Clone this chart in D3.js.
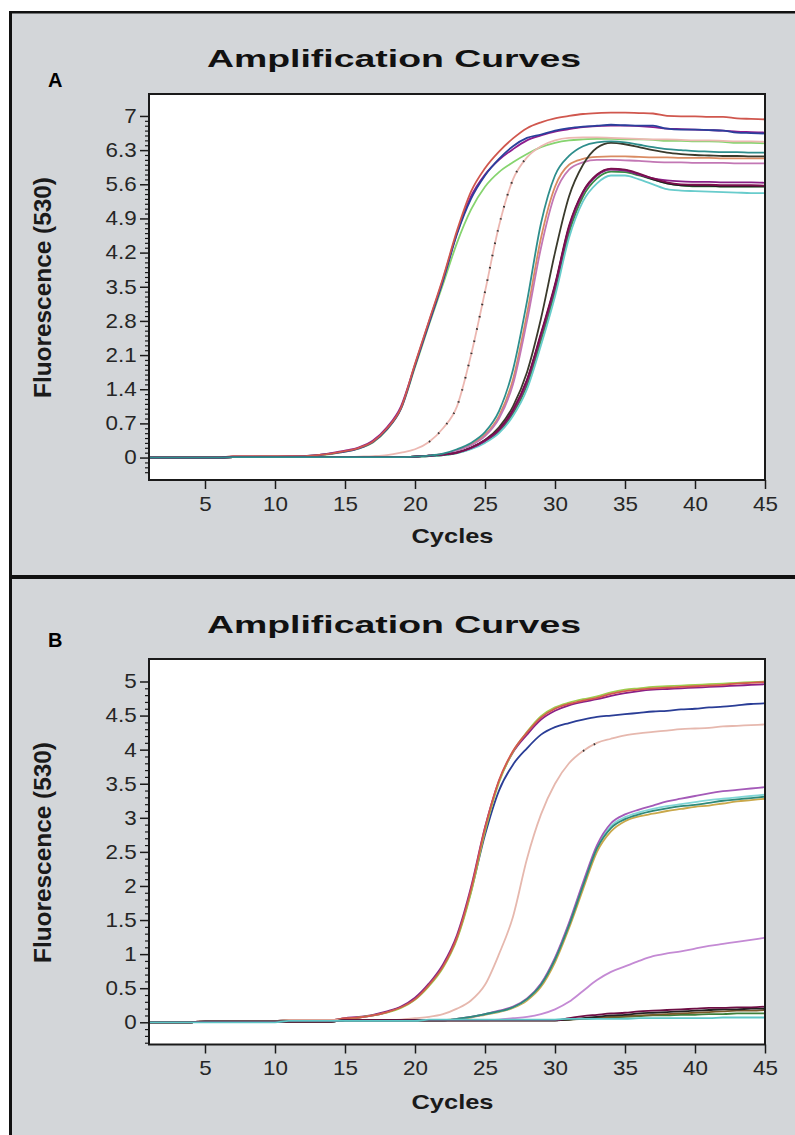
<!DOCTYPE html>
<html>
<head>
<meta charset="utf-8">
<title>Amplification Curves</title>
<script src="https://d3js.org/d3.v7.min.js"></script>
<style>
  body { margin: 0; background: #fff; }
  svg text { font-family: "Liberation Sans", Arial, sans-serif; }
</style>
</head>
<body>
<div id="chart"></div>
<script>
// cycle numbers on the x axis
const cycles = d3.range(1, 46)
const xTicks = [5, 10, 15, 20, 25, 30, 35, 40, 45]

// ---- panel A (fluorescence per cycle) ----
const yTicksA = [0, 0.7, 1.4, 2.1, 2.8, 3.5, 4.2, 4.9, 5.6, 6.3, 7]
const aRed = [0,0,0,0,0,0,0.03,0.03,0.03,0.03,0.03,0.03, 0.05,0.08,0.13,0.2,0.33,0.6,1.02,1.92,2.8,3.68, 4.65,5.45,5.93,6.27,6.54,6.75,6.87,6.95,7.0,7.04, 7.06,7.07,7.07,7.06,7.05,7.0,6.99,6.99,6.98,6.98, 6.95,6.94,6.93]
const aPurple = [0,0,0,0,0,0,0.02,0.02,0.02,0.02,0.03,0.03, 0.05,0.09,0.14,0.21,0.35,0.62,1.05,1.9,2.78,3.65, 4.6,5.35,5.8,6.1,6.32,6.5,6.6,6.68,6.73,6.77, 6.79,6.8,6.8,6.79,6.77,6.74,6.73,6.72,6.71,6.7, 6.68,6.67,6.66]
const aBlue = [0,0,0,0,0,0,0.02,0.02,0.02,0.02,0.02,0.03, 0.05,0.08,0.12,0.19,0.32,0.58,1.0,1.88,2.75,3.62, 4.58,5.3,5.78,6.12,6.38,6.55,6.62,6.7,6.75,6.78, 6.8,6.82,6.81,6.8,6.8,6.74,6.72,6.72,6.71,6.7, 6.66,6.65,6.64]
const aLime = [0,0,0,0,0,0,0.01,0.01,0.02,0.02,0.02,0.02, 0.04,0.07,0.12,0.19,0.31,0.57,1.0,1.85,2.72,3.55, 4.4,5.08,5.55,5.85,6.05,6.22,6.36,6.45,6.5,6.52, 6.53,6.53,6.52,6.52,6.51,6.49,6.49,6.48,6.48,6.47, 6.45,6.45,6.44]
const aPink = [0,0,0,0,0,0,0.01,0.01,0.01,0.01,0.01,0.01,0.01,0.01,0.01,0.02,0.03, 0.05,0.1,0.17,0.32,0.6,1.05,2.1,3.4,4.75,5.7, 6.15,6.38,6.5,6.55,6.56,6.56,6.55,6.54,6.53,6.52, 6.52,6.51,6.5,6.5,6.49,6.48,6.48,6.47]
const aTeal = [0,0,0,0,0,0,0.01,0.01,0.01,0.01,0.01,0.01,0.01,0.01,0.01,0.01,0.01,0.01,0.01, 0.02,0.04,0.08,0.17,0.3,0.52,0.95,1.8,3.2,4.8, 5.78,6.18,6.38,6.46,6.48,6.46,6.41,6.36,6.32,6.3, 6.28,6.27,6.26,6.26,6.25,6.25]
const aSalmon = [0,0,0,0,0,0,0.01,0.01,0.01,0.01,0.01,0.01,0.01,0.01,0.01,0.01,0.01,0.01,0.01, 0.02,0.04,0.07,0.15,0.27,0.47,0.85,1.6,2.95,4.5, 5.55,6.0,6.12,6.16,6.17,6.17,6.16,6.15,6.15,6.14, 6.14,6.14,6.13,6.13,6.13,6.13]
const aMauve = [0,0,0,0,0,0,0.01,0.01,0.01,0.01,0.01,0.01,0.01,0.01,0.01,0.01,0.01,0.01,0.01, 0.02,0.04,0.07,0.14,0.25,0.44,0.8,1.5,2.8,4.3, 5.4,5.9,6.05,6.1,6.1,6.09,6.08,6.06,6.05,6.05, 6.04,6.04,6.04,6.03,6.03,6.03]
const aDark = [0,0,0,0,0,0,0.01,0.01,0.01,0.01,0.01,0.01,0.01,0.01,0.01,0.01,0.01,0.01,0.01, 0.02,0.03,0.05,0.1,0.2,0.36,0.62,1.05,1.75,2.85, 4.2,5.35,6.0,6.35,6.45,6.42,6.36,6.3,6.25,6.22, 6.2,6.19,6.18,6.18,6.17,6.17]
const aMaroon = [0,0,0,0,0,0,0.01,0.01,0.01,0.01,0.01,0.01,0.01,0.01,0.01,0.01,0.01,0.01,0.01, 0.02,0.04,0.06,0.1,0.2,0.36,0.58,0.98,1.6,2.55, 3.55,4.75,5.45,5.8,5.92,5.9,5.82,5.72,5.64,5.6, 5.59,5.59,5.58,5.58,5.58,5.57]
const aViolet = [0,0,0,0,0,0,0.01,0.01,0.01,0.01,0.01,0.01,0.01,0.01,0.01,0.01,0.01,0.01,0.01, 0.02,0.04,0.06,0.1,0.19,0.34,0.56,0.95,1.55,2.5, 3.5,4.7,5.42,5.78,5.9,5.88,5.8,5.72,5.68,5.66, 5.65,5.65,5.64,5.64,5.64,5.63]
const aGreen = [0,0,0,0,0,0,0.01,0.01,0.01,0.01,0.01,0.01,0.01,0.01,0.01,0.01,0.01,0.01,0.01, 0.02,0.03,0.05,0.09,0.18,0.32,0.53,0.9,1.48,2.4, 3.4,4.6,5.35,5.72,5.86,5.85,5.78,5.7,5.62,5.58, 5.56,5.56,5.55,5.55,5.55,5.55]
const aCyan = [0,0,0,0,0,0,0.01,0.01,0.01,0.01,0.01,0.01,0.01,0.01,0.01,0.01,0.01,0.01,0.01, 0.02,0.03,0.05,0.09,0.17,0.3,0.5,0.85,1.4,2.3, 3.3,4.5,5.25,5.62,5.78,5.78,5.7,5.6,5.5,5.47, 5.46,5.45,5.44,5.43,5.42,5.42]
const aBlack = [0,0,0,0,0,0,0.01,0.01,0.01,0.01,0.01,0.01,0.01,0.01,0.01,0.01,0.01,0.01,0.01, 0.02,0.04,0.06,0.1,0.2,0.35,0.57,0.96,1.58,2.52, 3.52,4.72,5.44,5.79,5.91,5.89,5.8,5.7,5.62,5.58, 5.57,5.57,5.56,5.56,5.56,5.56]

// ---- panel B ----
const yTicksB = [0, 0.5, 1, 1.5, 2, 2.5, 3, 3.5, 4, 4.5, 5]
const bRed = [0,0,0,0,0.02,0.02,0.02,0.02,0.02,0.02,0.03,0.03,0.03,0.03, 0.06,0.07,0.1,0.15,0.22,0.34,0.55,0.82,1.25,1.95, 2.85,3.55,3.98,4.25,4.47,4.6,4.67,4.72,4.76,4.82, 4.86,4.88,4.9,4.91,4.92,4.93,4.94,4.95,4.97,4.98,4.99]
const bPurple = [0,0,0,0,0.02,0.02,0.02,0.02,0.02,0.02,0.03,0.03,0.03,0.03, 0.06,0.08,0.11,0.16,0.23,0.36,0.57,0.85,1.28,1.98, 2.86,3.54,3.96,4.22,4.44,4.57,4.65,4.7,4.74,4.79, 4.83,4.86,4.88,4.89,4.9,4.91,4.92,4.93,4.94,4.95,4.96]
const bLime = [0,0,0,0,0.02,0.02,0.02,0.02,0.02,0.02,0.03,0.03,0.03,0.03, 0.05,0.07,0.1,0.14,0.21,0.33,0.53,0.8,1.22,1.9, 2.8,3.52,3.97,4.26,4.49,4.62,4.69,4.74,4.78,4.84, 4.88,4.9,4.92,4.93,4.94,4.95,4.96,4.97,4.98,4.99,5.0]
const bBlue = [0,0,0,0,0.02,0.02,0.02,0.02,0.02,0.02,0.03,0.03,0.03,0.03, 0.05,0.07,0.1,0.15,0.22,0.34,0.55,0.82,1.24,1.92, 2.75,3.4,3.78,4.02,4.22,4.33,4.39,4.44,4.48,4.5, 4.52,4.54,4.56,4.57,4.59,4.6,4.62,4.63,4.65,4.67,4.68]
const bPink = [0,0,0,0,0.02,0.02,0.02,0.02,0.02,0.02,0.03,0.03,0.03,0.03,0.03,0.03,0.03,0.03, 0.04,0.06,0.08,0.12,0.2,0.32,0.55,1.0,1.55,2.4, 3.05,3.5,3.8,3.98,4.1,4.16,4.21,4.24,4.26,4.28, 4.3,4.31,4.32,4.34,4.35,4.36,4.37]
const bTeal = [0,0,0,0,0.01,0.01,0.01,0.01,0.01,0.01,0.01,0.01,0.01,0.01,0.03,0.03,0.03,0.03,0.03,0.03,0.03,0.03, 0.05,0.08,0.12,0.16,0.22,0.34,0.55,0.92,1.42,2.0, 2.55,2.85,2.98,3.05,3.1,3.14,3.17,3.19,3.22,3.25, 3.27,3.29,3.31]
const bViolet = [0,0,0,0,0.01,0.01,0.01,0.01,0.01,0.01,0.01,0.01,0.01,0.01,0.03,0.03,0.03,0.03,0.03,0.03,0.03,0.03, 0.05,0.08,0.12,0.17,0.23,0.35,0.57,0.95,1.46,2.05, 2.6,2.92,3.05,3.12,3.18,3.24,3.28,3.32,3.36,3.39, 3.41,3.43,3.45]
const bOlive = [0,0,0,0,0.01,0.01,0.01,0.01,0.01,0.01,0.01,0.01,0.01,0.01,0.03,0.03,0.03,0.03,0.03,0.03,0.03,0.03, 0.05,0.07,0.11,0.15,0.21,0.32,0.52,0.88,1.38,1.95, 2.5,2.8,2.95,3.02,3.06,3.1,3.13,3.16,3.18,3.21, 3.24,3.26,3.28]
const bAqua = [0,0,0,0,0.01,0.01,0.01,0.01,0.01,0.01,0.01,0.01,0.01,0.01,0.03,0.03,0.03,0.03,0.03,0.03,0.03,0.03, 0.05,0.08,0.12,0.16,0.22,0.34,0.56,0.93,1.44,2.02, 2.57,2.88,3.01,3.08,3.13,3.17,3.2,3.23,3.26,3.28, 3.3,3.32,3.34]
const bLilac = [0,0,0,0,0.01,0.01,0.01,0.01,0.01,0.01,0.01,0.01,0.01,0.01,0.03,0.03,0.03,0.03,0.03,0.03,0.03,0.03,0.03,0.03,0.03, 0.04,0.06,0.08,0.12,0.19,0.3,0.46,0.62,0.74,0.82, 0.9,0.97,1.01,1.04,1.08,1.12,1.15,1.18,1.21,1.24]
const bMaroon = [0,0,0,0,0.01,0.01,0.01,0.01,0.01,0.01,0.01,0.01,0.01,0.01,0.03,0.03,0.03,0.03,0.03,0.03,0.03,0.03,0.03,0.03,0.03,0.03,0.03,0.03,0.03,0.03, 0.06,0.09,0.11,0.13,0.14,0.16,0.17,0.18,0.19,0.2,0.21,0.21,0.22,0.22,0.23]
const bBlack = [0,0,0,0,0.01,0.01,0.01,0.01,0.01,0.01,0.01,0.01,0.01,0.01,0.03,0.03,0.03,0.03,0.03,0.03,0.03,0.03,0.03,0.03,0.03,0.03,0.03,0.03,0.03,0.03, 0.04,0.06,0.08,0.1,0.11,0.13,0.14,0.15,0.16,0.17,0.18,0.19,0.19,0.2,0.2]
const bBrown = [0,0,0,0,0.01,0.01,0.01,0.01,0.01,0.01,0.01,0.01,0.01,0.01,0.03,0.03,0.03,0.03,0.03,0.03,0.03,0.03,0.03,0.03,0.03,0.03,0.03,0.03,0.03,0.03, 0.04,0.05,0.07,0.08,0.09,0.1,0.11,0.12,0.13,0.14,0.15,0.16,0.17,0.17,0.18]
const bGreen = [0,0,0,0,0.01,0.01,0.01,0.01,0.01,0.01,0.01,0.01,0.01,0.01,0.03,0.03,0.03,0.03,0.03,0.03,0.03,0.03,0.03,0.03,0.03,0.03,0.03,0.03,0.03,0.03, 0.04,0.05,0.06,0.07,0.08,0.09,0.1,0.1,0.11,0.11,0.12,0.12,0.13,0.13,0.13]
const bCyan = [0,0,0,0,0,0,0,0,0,0, 0.02,0.02,0.02,0.02,0.02,0.02,0.02,0.02,0.02,0.02, 0.04,0.04,0.04,0.04,0.04,0.04,0.04,0.04,0.04,0.04, 0.05,0.05,0.05,0.05,0.05,0.06,0.06,0.06,0.06,0.06,0.06,0.07,0.07,0.07,0.07]

// drawing order: first drawn sits underneath
const seriesA = [
  {values: aLime, color: '#86d46f'},
  {values: aPurple, color: '#8e1c8e'},
  {values: aBlue, color: '#2a409c'},
  {values: aRed, color: '#d0574e'},
  {values: aPink, color: '#ecb8b2', dots: true},
  {values: aSalmon, color: '#d98b62'},
  {values: aMauve, color: '#c277b4'},
  {values: aDark, color: '#3a3a2c'},
  {values: aGreen, color: '#3a8a44'},
  {values: aCyan, color: '#68cccc'},
  {values: aBlack, color: '#1e1e1e'},
  {values: aViolet, color: '#8a1f86'},
  {values: aMaroon, color: '#7a0f4c'},
  {values: aTeal, color: '#2e8e8c'}
]
const seriesB = [
  {values: bPurple, color: '#8a1f86'},
  {values: bBlue, color: '#2a3d96'},
  {values: bLime, color: '#9fcc4c'},
  {values: bRed, color: '#d4574f'},
  {values: bPink, color: '#e6b8ae', dots: true},
  {values: bOlive, color: '#c9a84a'},
  {values: bAqua, color: '#80d6d6'},
  {values: bViolet, color: '#a45ab8'},
  {values: bTeal, color: '#2f8a7a'},
  {values: bLilac, color: '#c48ad4'},
  {values: bGreen, color: '#3f7f3a'},
  {values: bBrown, color: '#7a5a2a'},
  {values: bBlack, color: '#222222'},
  {values: bMaroon, color: '#6e0f45'},
  {values: bCyan, color: '#5cc6c6'}
]

const width = 795
const height = 1135
const svg = d3.select('#chart').append('svg').attr('width', width).attr('height', height)

// grey frame with black rules
svg.append('rect').attr('x', 9).attr('y', 11).attr('width', width - 9).attr('height', height - 11).attr('fill', '#d3d6d9')
svg.append('rect').attr('x', 9).attr('y', 11).attr('width', 3).attr('height', height - 11).attr('fill', '#111')
svg.append('rect').attr('x', 9).attr('y', 11).attr('width', width - 9).attr('height', 2.5).attr('fill', '#111')
svg.append('rect').attr('x', 9).attr('y', 575).attr('width', width - 9).attr('height', 4).attr('fill', '#111')

function drawPanel(p) {
  const left = 149, right = 765
  const x = d3.scaleLinear().domain([1, 45]).range([left, right])
  const y = d3.scaleLinear().domain(p.yDomain).range([p.bottom, p.top])
  const g = svg.append('g')

  g.append('rect').attr('x', left).attr('y', p.top).attr('width', right - left).attr('height', p.bottom - p.top).attr('fill', '#fff')

  g.append('clipPath').attr('id', p.id + 'clip').append('rect')
    .attr('x', left).attr('y', p.top).attr('width', right - left).attr('height', p.bottom - p.top)

  const line = d3.line().x((d, i) => x(cycles[i])).y(d => y(d)).curve(d3.curveMonotoneX)
  const plot = g.append('g').attr('clip-path', `url(#${p.id}clip)`)

  plot.selectAll('path.curve').data(p.series).join('path')
    .attr('class', 'curve')
    .attr('d', d => line(d.values))
    .attr('fill', 'none')
    .attr('stroke', d => d.color)
    .attr('stroke-width', 1.8)

  // the dotted-looking pink trace: dark specks on its rising part
  const dotted = p.series.filter(d => d.dots)
  const rise = d3.line()
    .defined(d => d >= p.dotRange[0] && d <= p.dotRange[1])
    .x((d, i) => x(cycles[i])).y(d => y(d)).curve(d3.curveMonotoneX)
  plot.selectAll('path.specks').data(dotted).join('path')
    .attr('class', 'specks')
    .attr('d', d => rise(d.values))
    .attr('fill', 'none')
    .attr('stroke', '#333')
    .attr('stroke-width', 2)
    .attr('stroke-dasharray', '1.5 11')

  // plot box
  g.append('rect').attr('x', left).attr('y', p.top).attr('width', right - left).attr('height', p.bottom - p.top)
    .attr('fill', 'none').attr('stroke', '#1a1a1a').attr('stroke-width', 2)

  // y axis, major and minor ticks
  const fmt = d => d === 0 ? '0' : String(+d.toFixed(1))
  g.append('g').attr('transform', `translate(${left},0)`)
    .call(d3.axisLeft(y).tickValues(p.yTicks).tickSize(9).tickPadding(2).tickFormat(fmt))
    .call(a => a.select('.domain').remove())
    .call(a => a.selectAll('line').attr('stroke', '#1a1a1a').attr('stroke-width', 1.5))
    .call(a => a.selectAll('text').attr('transform', 'scale(1.12,1)').attr('fill', '#262626')
      .attr('font-family', '"Liberation Sans", Arial, sans-serif').attr('font-size', 20))

  const minor = d3.range(-3, Math.round(d3.max(p.yTicks) * 10))
    .map(i => i / 10)
    .filter(v => !p.yTicks.some(t => Math.abs(t - v) < 1e-6))
  g.append('g').attr('transform', `translate(${left},0)`)
    .call(d3.axisLeft(y).tickValues(minor).tickSize(4).tickFormat(''))
    .call(a => a.select('.domain').remove())
    .call(a => a.selectAll('line').attr('stroke', '#1a1a1a').attr('stroke-width', 1.2))

  // x axis
  g.append('g').attr('transform', `translate(0,${p.bottom})`)
    .call(d3.axisBottom(x).tickValues(xTicks).tickSize(9).tickPadding(p.xPad))
    .call(a => a.select('.domain').remove())
    .call(a => a.selectAll('line').attr('stroke', '#1a1a1a').attr('stroke-width', 1.5))
    .call(a => a.selectAll('text').attr('transform', 'scale(1.12,1)').attr('fill', '#262626')
      .attr('font-family', '"Liberation Sans", Arial, sans-serif').attr('font-size', 20))

  // titles and labels
  g.append('text').attr('x', 394).attr('y', p.titleY).attr('text-anchor', 'middle')
    .attr('font-family', '"DejaVu Sans", sans-serif').attr('font-weight', 'bold').attr('font-size', 23)
    .attr('textLength', 374).attr('lengthAdjust', 'spacingAndGlyphs').attr('fill', '#111')
    .text('Amplification Curves')

  g.append('text').attr('x', 48).attr('y', p.letterY)
    .attr('font-weight', 'bold').attr('font-size', 20).attr('fill', '#000')
    .text(p.letter)

  g.append('text').attr('transform', `translate(51,${p.labelY}) rotate(-90)`).attr('text-anchor', 'middle')
    .attr('font-weight', 'bold').attr('font-size', 23).attr('fill', '#1a1a1a')
    .attr('textLength', 221).attr('lengthAdjust', 'spacingAndGlyphs')
    .text('Fluorescence (530)')

  g.append('text').attr('x', 452.5).attr('y', p.cyclesY).attr('text-anchor', 'middle')
    .attr('font-weight', 'bold').attr('font-size', 21).attr('fill', '#1a1a1a')
    .attr('textLength', 82).attr('lengthAdjust', 'spacingAndGlyphs')
    .text('Cycles')
}

drawPanel({
  id: 'A', letter: 'A', series: seriesA, yTicks: yTicksA,
  yDomain: [-0.46, 7.45], top: 94, bottom: 480, xPad: 8,
  titleY: 67, letterY: 87, labelY: 287.5, cyclesY: 543, dotRange: [0.3, 6.3]
})
drawPanel({
  id: 'B', letter: 'B', series: seriesB, yTicks: yTicksB,
  yDomain: [-0.326, 5.33], top: 659, bottom: 1044.5, xPad: 7,
  titleY: 633, letterY: 647, labelY: 852.5, cyclesY: 1109, dotRange: [3.9, 4.15]
})
</script>
</body>
</html>
